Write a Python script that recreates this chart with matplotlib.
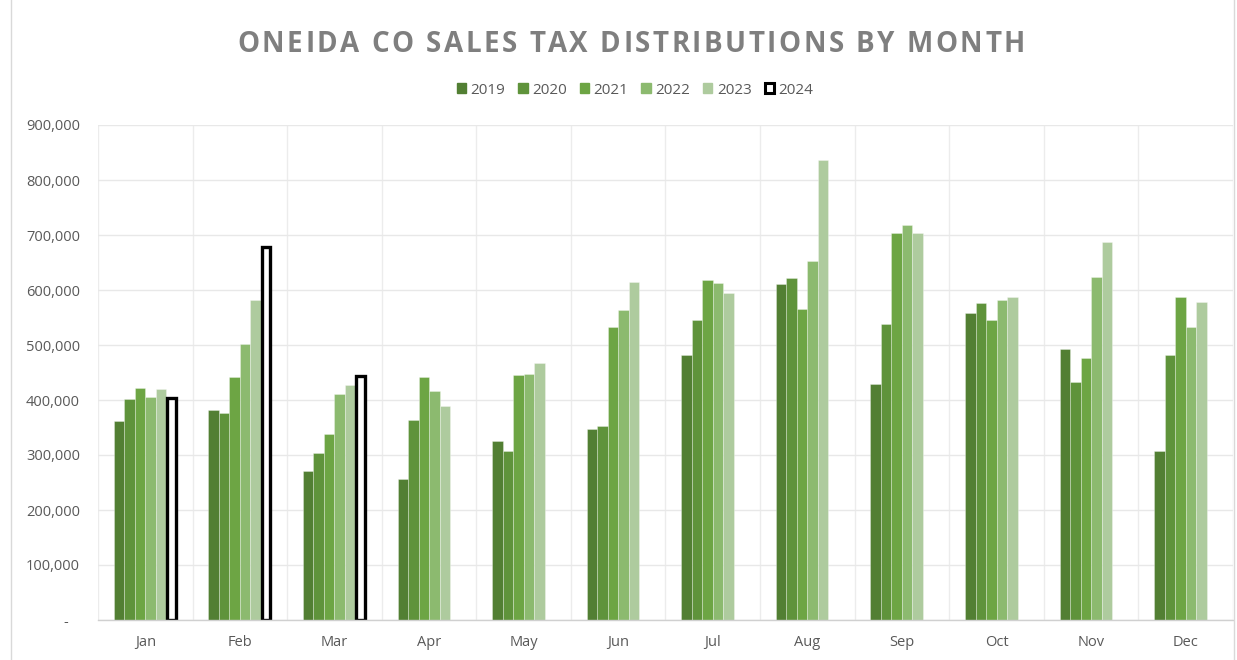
import numpy as np
import matplotlib
matplotlib.use("Agg")
import matplotlib.pyplot as plt
from matplotlib.patches import Patch
from matplotlib.lines import Line2D
from matplotlib.ticker import FuncFormatter, MultipleLocator

months = ["Jan", "Feb", "Mar", "Apr", "May", "Jun", "Jul", "Aug", "Sep", "Oct", "Nov", "Dec"]
years = ["2019", "2020", "2021", "2022", "2023", "2024"]
s2019 = [362000, 381000, 271000, 256000, 326000, 347000, 482000, 611000, 430000, 558000, 492000, 307000]
s2020 = [401000, 376000, 304000, 364000, 308000, 352000, 545000, 622000, 538000, 576000, 432000, 482000]
s2021 = [421000, 441000, 338000, 441000, 445000, 533000, 619000, 565000, 704000, 545000, 476000, 588000]
s2022 = [405000, 502000, 411000, 416000, 447000, 564000, 612000, 652000, 719000, 581000, 623000, 532000]
s2023 = [420000, 582000, 427000, 390000, 468000, 614000, 594000, 837000, 703000, 588000, 687000, 579000]
s2024 = [404000, 678000, 444000, None, None, None, None, None, None, None, None, None]
series = [s2019, s2020, s2021, s2022, s2023, s2024]

colors = ["#527f33", "#5f933b", "#6da544", "#8cba6f", "#aecb9e"]

W, H = 1237, 660
fig = plt.figure(figsize=(W / 100, H / 100), dpi=100)
ax = fig.add_axes([98 / W, (H - 620) / H, (1233 - 98) / W, (620 - 125) / H])

x = np.arange(len(months))
bw = 0.111
for i, (yr, vals) in enumerate(zip(years, series)):
    xs = x + (i - 2.5) * bw
    if i < 5:
        ax.bar(xs, vals, width=bw, color=colors[i], edgecolor=(1, 1, 1, 0.35),
               linewidth=0.6, label=yr, zorder=3)
    else:
        xv = [xx for xx, v in zip(xs, vals) if v is not None]
        vv = [v for v in vals if v is not None]
        ax.bar(xv, vv, width=bw * 0.82, color="white", edgecolor="black",
               linewidth=2.4, label=yr, zorder=4)

ax.set_xlim(-0.5, len(months) - 0.5)
ax.set_ylim(0, 900000)
ax.yaxis.set_major_locator(MultipleLocator(100000))
ax.yaxis.set_major_formatter(FuncFormatter(lambda v, p: "-   " if v == 0 else f"{int(v):,}"))
ax.set_xticks(x)
ax.set_xticklabels(months)
ax.set_xticks(np.arange(-0.5, len(months), 1), minor=True)

ax.grid(True, which="major", axis="y", color="#e8e8e8", linewidth=1.0, zorder=0)
ax.grid(True, which="minor", axis="x", color="#ececec", linewidth=1.0, zorder=0)
ax.tick_params(axis="both", which="both", length=0)
ax.tick_params(axis="y", pad=13, labelsize=10.5, labelcolor="#595959")
ax.tick_params(axis="x", pad=10.5, labelsize=10.5, labelcolor="#595959")
for lab in ax.get_xticklabels() + ax.get_yticklabels():
    lab.set_fontfamily("Open Sans")
for s in ["top", "right", "left"]:
    ax.spines[s].set_visible(False)
ax.spines["bottom"].set_color("#d0d0d0")
ax.spines["bottom"].set_linewidth(1.0)
ax.spines["bottom"].set_zorder(5)

# Legend
handles = [Patch(facecolor=c, edgecolor=c) for c in colors]
handles.append(Patch(facecolor="white", edgecolor="black", linewidth=2.2))
leg = fig.legend(handles, years, loc="center", bbox_to_anchor=(635 / W, 1 - 90 / H),
                 ncol=6, frameon=False, handlelength=0.6, handleheight=0.6,
                 handletextpad=0.3, columnspacing=0.85,
                 prop={"family": "Open Sans", "size": 11})
for t in leg.get_texts():
    t.set_color("#595959")

# Title with letter spacing
title = "ONEIDA CO SALES TAX DISTRIBUTIONS BY MONTH"
fig.canvas.draw()
renderer = fig.canvas.get_renderer()
tprops = dict(fontsize=20, fontweight="bold", family="Open Sans", color="#7f7f7f")
widths = []
for ch in title:
    if ch == " ":
        t = fig.text(0, 0, "a a", **tprops)
        w_full = t.get_window_extent(renderer).width
        t.remove()
        t = fig.text(0, 0, "aa", **tprops)
        w_nosp = t.get_window_extent(renderer).width
        t.remove()
        widths.append(w_full - w_nosp)
    else:
        t = fig.text(0, 0, ch, **tprops)
        widths.append(t.get_window_extent(renderer).width)
        t.remove()
spacing = 2.5
total = sum(widths) + spacing * (len(title) - 1)
start = 631 - total / 2
cx = start
for ch, w in zip(title, widths):
    if ch != " ":
        fig.text(cx / W, 1 - 44 / H, ch, ha="left", va="center", **tprops)
    cx += w + spacing

# chart area border
fig.add_artist(Line2D([11 / W, 11 / W], [0, 1], color="#d9d9d9", linewidth=1.0, transform=fig.transFigure))
fig.add_artist(Line2D([1234 / W, 1234 / W], [0, 1], color="#d9d9d9", linewidth=1.0, transform=fig.transFigure))

fig.savefig("out.png", dpi=100, facecolor="white")
